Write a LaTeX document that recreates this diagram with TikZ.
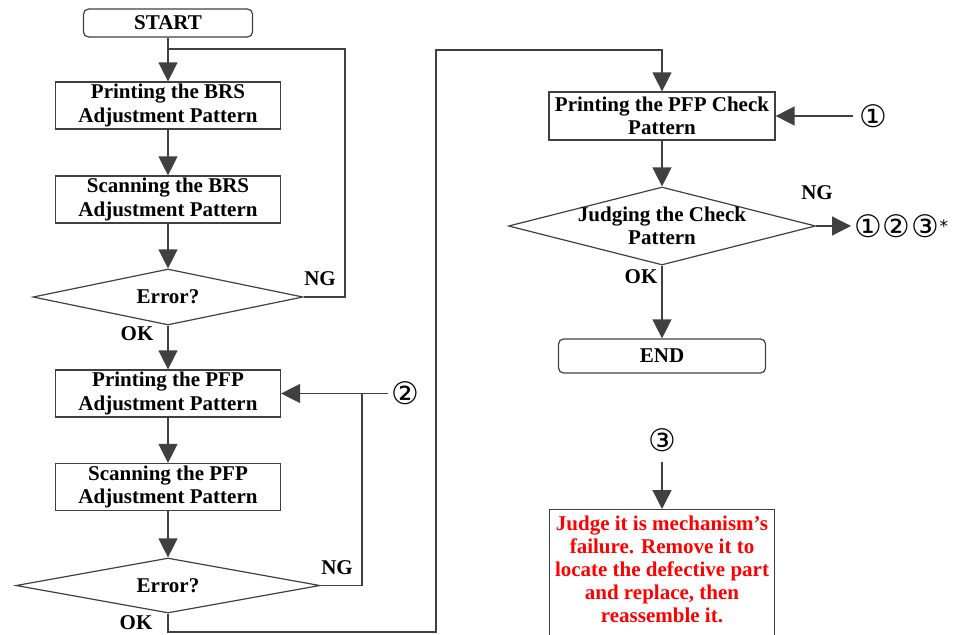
\documentclass[tikz,border=0pt]{standalone}
\usepackage{fontspec}
\setmainfont{Liberation Serif}
\newfontfamily\circfont{DejaVu Sans}
\usetikzlibrary{arrows.meta,shapes.geometric}
\usepackage{xcolor}
\definecolor{fcline}{RGB}{64,64,64}
\definecolor{fcred}{RGB}{255,0,0}
\newcommand\fcfont{\fontsize{21}{23.5}\selectfont\bfseries}
\newcommand\circsize{\circfont\fontsize{31}{33}\selectfont}
\tikzset{
    stepbox/.style={
        draw=fcline,line width=1.2pt,minimum width=225pt,minimum height=47pt,
        inner sep=1pt,align=center,font=\fcfont
    },
    termbox/.style={stepbox,rounded corners=5pt},
    decide/.style={diamond,draw=fcline,line width=1.2pt,inner sep=0pt},
    txt/.style={font=\fcfont,align=center,inner sep=1pt},
    circmark/.style={font=\circsize,inner sep=0pt},
    link/.style={line width=1.3pt,draw=fcline},
    arr/.style={-{Triangle[length=19pt,width=19pt]},line width=1.3pt,draw=fcline}
}
\begin{document}
\begin{tikzpicture}[x=1pt,y=-1pt]
\clip (0,0) rectangle (960,634);

% BRS part
\node[termbox,minimum width=169pt,minimum height=28pt] (start) at (168,23) {START};
\node[stepbox] (pbrs) at (168,105.5) {Printing the BRS\\Adjustment Pattern};
\node[stepbox] (sbrs) at (168,199.5) {Scanning the BRS\\Adjustment Pattern};
\node[decide,minimum width=270pt,minimum height=56pt] (err1) at (168,297) {};
\node[txt] (err1t) at (err1) {Error?};
\node[txt] (ng1) at (320,279) {NG};
\node[txt] (ok1) at (137,334) {OK};
\coordinate (j1) at (168,49);
\coordinate (lp1) at (345,49);

% PFP part
\node[stepbox] (ppfp) at (168,393.5) {Printing the PFP\\Adjustment Pattern};
\node[stepbox] (spfp) at (168,487) {Scanning the PFP\\Adjustment Pattern};
\node[decide,minimum width=304pt,minimum height=55pt] (err2) at (168,585.5) {};
\node[txt] (err2t) at (err2) {Error?};
\node[txt] (ng2) at (337,568) {NG};
\node[txt] (ok2) at (136,623) {OK};
\node[circmark] (m2) at (405,393.5) {②};
\coordinate (lp2) at (362,393.5);
\coordinate (lp3) at (436,632);
\coordinate (lp4) at (662,50);

% check part
\node[stepbox,minimum width=226pt,minimum height=48pt] (pchk) at (662,116) {Printing the PFP Check\\Pattern};
\node[circmark] (m1) at (873,116) {①};
\node[decide,minimum width=307pt,minimum height=78pt] (judge) at (662,226) {};
\node[txt] (judget) at (judge) {Judging the Check\\Pattern};
\node[txt] (ng3) at (817,193) {NG};
\node[txt] (ok3) at (641,277) {OK};
\node[circmark,anchor=west] (m123) at (854,226) {①\hspace{1pt}②\hspace{1pt}③\raisebox{5pt}{\fontsize{17}{17}\selectfont *}};
\node[termbox,minimum width=207pt,minimum height=34pt] (end) at (662,356) {END};

% failure box
\node[circmark] (m3) at (662,440) {③};
\node[draw=fcline,line width=1.2pt,minimum width=225pt,minimum height=150pt,anchor=north] (fail) at (662,509) {};
\node[txt,text=fcred,font=\fontsize{21}{23}\selectfont\bfseries] (failt) at (662,569)
{Judge it is mechanism’s\\failure. Remove it to\\locate the defective part\\and replace, then\\reassemble it.};

% connectors
\draw[arr] (start) -- (pbrs);
\draw[arr] (pbrs) -- (sbrs);
\draw[arr] (sbrs) -- (err1);
\draw[link] (err1.east) -| (lp1) -- (j1);
\draw[arr] (err1) -- (ppfp);
\draw[arr] (ppfp) -- (spfp);
\draw[arr] (spfp) -- (err2);
\draw[link] (err2.east) -| (lp2);
\draw[arr,shorten <=3pt] (m2.west) -- (ppfp.east);
\draw[arr] (err2.south) |- (lp3) |- (lp4) -- (pchk.north);
\draw[arr,shorten <=6pt] (m1.west) -- (pchk.east);
\draw[arr] (pchk) -- (judge);
\draw[arr,shorten >=3pt] (judge.east) -- (m123.west);
\draw[arr] (judge) -- (end);
\draw[arr,shorten <=10pt] (m3.south) -- (fail.north);

\end{tikzpicture}
\end{document}
